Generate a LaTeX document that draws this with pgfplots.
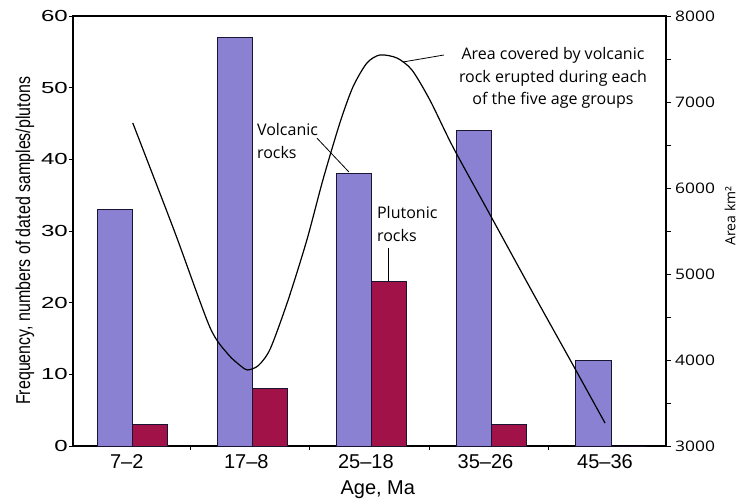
\documentclass[border=0pt]{standalone}
\usepackage{fontspec}
\setmainfont{Liberation Sans}
\newfontfamily\ltick[FakeStretch=1.5]{Liberation Sans}
\newfontfamily\osans{Open Sans}
\newfontfamily\rtick[FakeStretch=1.2]{Open Sans}
\usepackage{pgfplots}
\pgfplotsset{compat=1.18}

\definecolor{volc}{RGB}{139,129,210}
\definecolor{plut}{RGB}{160,18,72}
\definecolor{edge}{RGB}{25,20,50}

\begin{document}
\begin{tikzpicture}

\begin{axis}[%
width=593pt,
height=430pt,
scale only axis,
xmin=-0.5, xmax=4.46,
ymin=0, ymax=60,
ytick={0,10,...,60},
ytick pos=left,
tick align=outside,
major tick length=4pt,
xtick={0.48,1.48,2.48,3.48},
xticklabels={},
xtick pos=bottom,
extra x ticks={-0.05,0.95,1.95,2.95,3.95},
extra x tick labels={7--2,17--8,25--18,35--26,45--36},
extra x tick style={major tick length=0pt},
axis line style={line width=1.3pt},
every tick/.style={black, line width=1pt},
/pgf/number format/assume math mode=true,
yticklabel style={font=\ltick\fontsize{16}{16}\selectfont, anchor=east, inner sep=1pt},
xticklabel style={font=\fontsize{20}{20}\selectfont, anchor=north, inner sep=0pt, yshift=-8pt},
xlabel={Age, Ma},
xlabel style={font=\fontsize{20}{20}\selectfont, at={(axis description cs:0.514,-0.1023)}, anchor=center},
ylabel={\scalebox{1}[1.25]{Frequency, numbers of dated samples/plutons}},
ylabel style={font=\fontsize{16}{16}\selectfont, at={(axis description cs:-0.081,0.477)}, anchor=center},
]
% volcanic rocks
\addplot[ybar, bar width=0.293, bar shift=-0.1465, fill=volc, draw=edge, line width=1pt] coordinates {
(0,33) (1,57) (2,38) (3,44) (4,12)
};
% plutonic rocks
\addplot[ybar, bar width=0.293, bar shift=0.1465, fill=plut, draw=edge, line width=1pt] coordinates {
(0,3) (1,8) (2,23) (3,3) (4,0)
};

\node[anchor=west, align=left, inner sep=0pt, font=\osans\fontsize{16}{23}\selectfont] at (axis cs:1.038,42.5) {Volcanic\\rocks};
\draw[line width=0.8pt] (axis cs:1.540,42.97) -- (axis cs:1.808,38.23);
\node[anchor=west, align=left, inner sep=0pt, font=\osans\fontsize{16}{23}\selectfont] at (axis cs:2.042,30.97) {Plutonic\\rocks};
\draw[line width=0.8pt] (axis cs:2.134,27.63) -- (axis cs:2.134,23.02);
\node[align=center, inner sep=0pt, font=\osans\fontsize{16}{22.5}\selectfont] at (axis cs:3.515,51.35) {Area covered by volcanic\\rock erupted during each\\of the five age groups};
\draw[line width=0.8pt] (axis cs:2.259,53.58) -- (axis cs:2.603,54.56);
\end{axis}

\begin{axis}[%
width=593pt,
height=430pt,
scale only axis,
xmin=-0.5, xmax=4.46,
ymin=3000, ymax=8000,
axis x line=none,
axis y line*=right,
ytick={3000,4000,...,8000},
minor ytick={3500,4500,5500,6500,7500},
tick align=outside,
major tick length=5pt,
minor tick length=5pt,
axis line style={line width=1.3pt},
every tick/.style={black, line width=1pt},
/pgf/number format/assume math mode=true,
/pgf/number format/1000 sep={},
yticklabel style={font=\rtick\fontsize{14.5}{14.5}\selectfont, anchor=west, inner sep=0pt, xshift=4pt},
ylabel={Area km²},
ylabel style={font=\osans\fontsize{14}{14}\selectfont, at={(axis description cs:1.108,0.535)}, anchor=center},
]
\addplot[smooth, tension=0.45, black, line width=1.2pt] coordinates {
(0,6756) (0.351,5488) (0.644,4384) (0.795,4070) (0.904,3930) (0.96,3884)
(1.05,3935) (1.15,4130) (1.30,4700) (1.456,5395) (1.590,6093) (1.732,6756)
(1.841,7174) (1.958,7453) (2.067,7547) (2.209,7512) (2.335,7372) (2.485,7023)
(2.678,6477) (2.971,5733) (3.347,4779) (3.682,3942) (3.950,3267)
};
\end{axis}

\pgfresetboundingbox
\path[use as bounding box] (-73pt,-55pt) rectangle (668pt,446pt);
\end{tikzpicture}
\end{document}
